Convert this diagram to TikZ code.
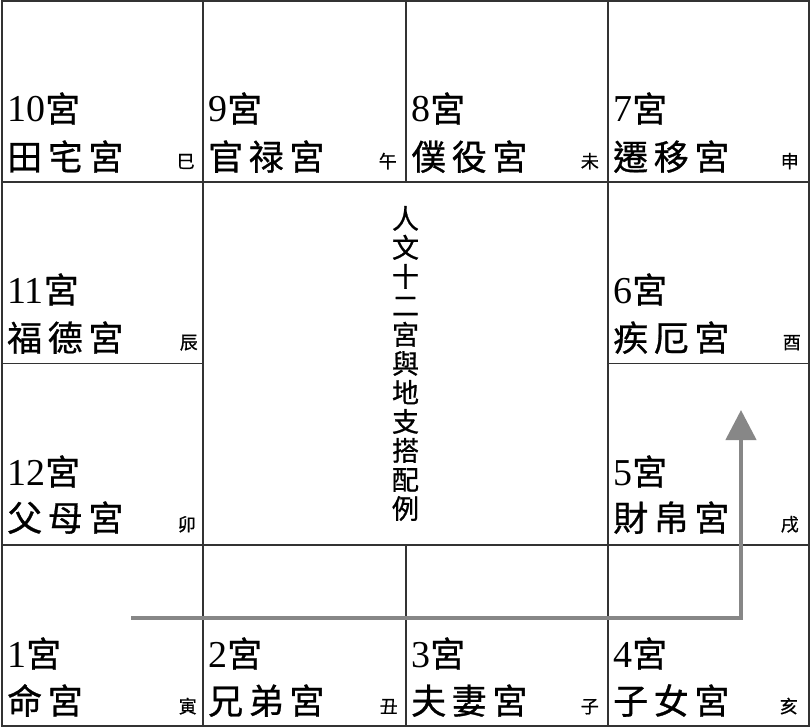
\documentclass[tikz,border=0pt]{standalone}
\usepackage{fontspec}
\setmainfont{Liberation Serif}
\newfontfamily\cjk[FakeBold=0.8]{Noto Sans CJK TC}
\newfontfamily\cjkwide[LetterSpace=16, FakeBold=0.8]{Noto Sans CJK TC}
\usetikzlibrary{arrows.meta}
\newcommand{\gong}{{\cjk\fontsize{35}{35}\selectfont 宮}}

\begin{document}
\begin{tikzpicture}[x=1pt, y=-1pt,
    grid/.style={draw=black!80, line width=1.5pt},
    num/.style={anchor=base west, inner sep=0pt, font=\fontsize{38}{38}\selectfont},
    pname/.style={anchor=base west, inner sep=0pt, font=\cjkwide\fontsize{35}{35}\selectfont},
    branch/.style={anchor=base east, inner sep=0pt, font=\cjk\fontsize{18}{18}\selectfont},
    flow/.style={draw=black!47, line width=4.5pt, line join=miter, -{Triangle[width=30pt, length=30pt]}}]
    \useasboundingbox (0,0) rectangle (811,727);

    % grid
    \draw[grid] (2,1) rectangle (809,726);
    \draw[grid] (2,182) -- (809,182);
    \draw[grid] (2,545) -- (809,545);
    \draw[grid] (2,363.5) -- (203,363.5);
    \draw[grid] (608,363.5) -- (809,363.5);
    \draw[grid] (203,1) -- (203,726);
    \draw[grid] (608,1) -- (608,726);
    \draw[grid] (406,1) -- (406,182);
    \draw[grid] (406,545) -- (406,726);

    % arrow
    \coordinate (start) at (131,618);
    \coordinate (tip) at (741,410);
    \draw[flow] (start) -| (tip);

    % top row
    \node[num] (n10) at (7,122) {10\gong};
    \node[pname] (p10) at (7,170) {田宅宮};
    \node[branch] (b10) at (195,168) {巳};
    \node[num] (n9) at (208,122) {9\gong};
    \node[pname] (p9) at (208,170) {官禄宮};
    \node[branch] (b9) at (397,168) {午};
    \node[num] (n8) at (411,122) {8\gong};
    \node[pname] (p8) at (411,170) {僕役宮};
    \node[branch] (b8) at (599,168) {未};
    \node[num] (n7) at (613,122) {7\gong};
    \node[pname] (p7) at (613,170) {遷移宮};
    \node[branch] (b7) at (799,168) {申};

    % left and right columns
    \node[num] (n11) at (7,303) {11\gong};
    \node[pname] (p11) at (7,351) {福德宮};
    \node[branch] (b11) at (198,349) {辰};
    \node[num] (n6) at (613,303) {6\gong};
    \node[pname] (p6) at (613,351) {疾厄宮};
    \node[branch] (b6) at (801,349) {酉};
    \node[num] (n12) at (7,485) {12\gong};
    \node[pname] (p12) at (7,531) {父母宮};
    \node[branch] (b12) at (196,531) {卯};
    \node[num] (n5) at (613,485) {5\gong};
    \node[pname] (p5) at (613,531) {財帛宮};
    \node[branch] (b5) at (799,531) {戌};

    % bottom row
    \node[num] (n1) at (7,667) {1\gong};
    \node[pname] (p1) at (7,714) {命宮};
    \node[branch] (b1) at (197,713) {寅};
    \node[num] (n2) at (208,667) {2\gong};
    \node[pname] (p2) at (208,714) {兄弟宮};
    \node[branch] (b2) at (398,713) {丑};
    \node[num] (n3) at (411,667) {3\gong};
    \node[pname] (p3) at (411,714) {夫妻宮};
    \node[branch] (b3) at (599,713) {子};
    \node[num] (n4) at (613,667) {4\gong};
    \node[pname] (p4) at (613,714) {子女宮};
    \node[branch] (b4) at (798,713) {亥};

    % title
    \node[align=center, inner sep=0pt, font=\cjk\fontsize{27}{29}\selectfont] (title) at (405.5,363.5)
        {人\\文\\十\\二\\宮\\與\\地\\支\\搭\\配\\例};
\end{tikzpicture}
\end{document}
